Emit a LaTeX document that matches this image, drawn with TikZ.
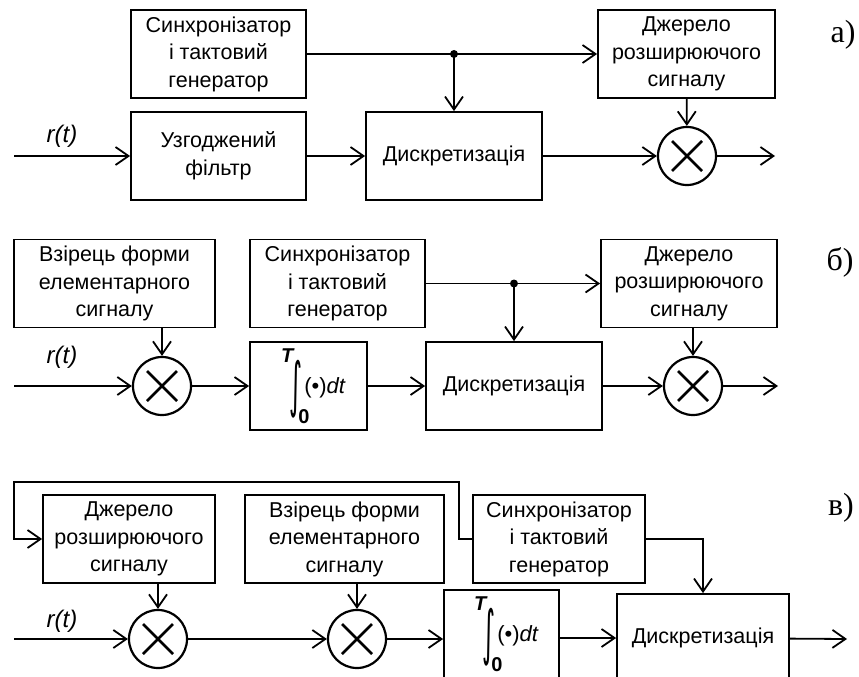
\documentclass[tikz,border=0pt]{standalone}
\usepackage{fontspec}
\usepackage{graphicx}
\setmainfont{Liberation Sans}
\newfontfamily\panelfont{Liberation Serif}
\newfontfamily\intfont{DejaVu Sans}
\usetikzlibrary{arrows.meta}

\tikzset{
	blk/.style={draw=black, shape=rectangle, line width=1.8pt, minimum height=88pt, inner sep=0pt, align=center, font=\fontsize{21.5}{27.5}\selectfont},
	mult/.style={draw=black, shape=circle, line width=2.2pt, minimum size=58pt, inner sep=0pt,
		path picture={\draw[line width=2.8pt] ([shift={(-15pt,-15pt)}]path picture bounding box.center) -- ([shift={(15pt,15pt)}]path picture bounding box.center);
			\draw[line width=2.8pt] ([shift={(-15pt,15pt)}]path picture bounding box.center) -- ([shift={(15pt,-15pt)}]path picture bounding box.center);}},
	jdot/.style={shape=circle, fill=black, minimum size=8pt, inner sep=0pt},
	sig/.style={font=\fontsize{24}{24}\selectfont\itshape},
	panel/.style={font=\fontsize{32}{32}\panelfont},
	wire/.style={line width=1.8pt, -{Straight Barb[length=13pt,width=18pt,line width=1.8pt]}}
}

\newcommand{\integr}{\hbox{\fontsize{20}{20}\selectfont\raisebox{31pt}{\bfseries\itshape T}\kern-4pt\raisebox{-25pt}{\resizebox*{13pt}{58pt}{\raisebox{\depth}{\intfont ∫}}}\kern-4pt\rlap{\raisebox{-30pt}{\bfseries 0}}\kern6pt{\fontsize{22}{22}\selectfont(\textbullet)\textit{dt}}\kern-10pt}}

\begin{document}
\begin{tikzpicture}[x=1pt, y=-1pt]
	\useasboundingbox (0,0) rectangle (859,677);
	\clip (0,0) rectangle (859,677);

	% a)
	\node[blk, minimum width=175pt] (synca) at (218.5, 54)  {Синхронізатор\\і тактовий\\генератор};
	\node[blk, minimum width=175pt] (filta) at (218.5, 156) {Узгоджений\\фільтр};
	\node[blk, minimum width=176pt] (disca) at (454, 156)   {Дискретизація};
	\node[blk, minimum width=177pt] (srca)  at (686.5, 54)  {Джерело\\розширюючого\\сигналу};
	\node[mult] (mula) at (687, 156) {};
	\node[jdot] (ja) at (454, 54) {};
	\coordinate (ina)  at (14, 156);
	\coordinate (outa) at (775, 156);
	\node[sig] (ra) at (62, 136) {r(t)};
	\node[panel] (la) at (843, 35) {а)};

	\draw[wire] (ina) -- (filta);
	\draw[wire] (filta) -- (disca);
	\draw[wire] (synca) -- (srca);
	\draw[wire] (ja.center) -- (disca.north);
	\draw[wire] (srca) -- (mula);
	\draw[wire] (disca) -- (mula);
	\draw[wire] (mula) -- (outa);

	% b)
	\node[blk, minimum width=201pt] (tmplb) at (114.5, 283.5) {Взірець форми\\елементарного\\сигналу};
	\node[blk, minimum width=175pt] (syncb) at (337.5, 283.5) {Синхронізатор\\і тактовий\\генератор};
	\node[blk, minimum width=176pt] (srcb)  at (689, 283.5)   {Джерело\\розширюючого\\сигналу};
	\node[mult] (mulb) at (162, 386) {};
	\node[blk, minimum width=117pt] (intb)  at (308.5, 386) {\integr};
	\node[blk, minimum width=176pt] (discb) at (514, 386)   {Дискретизація};
	\node[mult] (mulbb) at (693, 386) {};
	\node[jdot] (jb) at (514, 283.5) {};
	\coordinate (inb)  at (14, 386);
	\coordinate (outb) at (778, 386);
	\node[sig] (rb) at (62, 357) {r(t)};
	\node[panel] (lb) at (840, 262) {б)};

	\draw[wire] (inb) -- (mulb);
	\draw[wire] (mulb |- tmplb.south) -- (mulb);
	\draw[wire] (mulb) -- (intb);
	\draw[wire] (intb) -- (discb);
	\draw[wire] (syncb) -- (srcb);
	\draw[wire] (jb.center) -- (discb.north);
	\draw[wire] (mulbb |- srcb.south) -- (mulbb);
	\draw[wire] (discb) -- (mulbb);
	\draw[wire] (mulbb) -- (outb);

	% в)
	\node[blk, minimum width=172pt] (srcc)  at (129, 539)   {Джерело\\розширюючого\\сигналу};
	\node[blk, minimum width=199pt] (tmplc) at (344.5, 539) {Взірець форми\\елементарного\\сигналу};
	\node[blk, minimum width=172pt] (syncc) at (559, 539)   {Синхронізатор\\і тактовий\\генератор};
	\node[mult] (mulc) at (158, 639) {};
	\node[mult] (mulcc) at (357, 639) {};
	\node[blk, minimum width=115pt] (intc)  at (501.5, 634) {\integr};
	\node[blk, minimum width=172pt] (discc) at (703, 638)   {Дискретизація};
	\coordinate (inc)  at (14, 639);
	\coordinate (outc) at (847, 639);
	\coordinate (fbr) at (459, 482);
	\coordinate (fbl) at (14, 482);
	\node[sig] (rc) at (62, 621) {r(t)};
	\node[panel] (lc) at (841, 508) {в)};

	\draw[wire] (inc) -- (mulc);
	\draw[wire] (mulc |- srcc.south) -- (mulc);
	\draw[wire] (mulc) -- (mulcc);
	\draw[wire] (mulcc |- tmplc.south) -- (mulcc);
	\draw[wire] (mulcc) -- (intc.west |- mulcc);
	\draw[wire] (intc.east |- discc) -- (discc);
	\draw[wire] (discc) -- (outc);
	\draw[wire] (syncc.east) -| (discc.north);
	\draw[wire] (syncc.west) -| (fbr) -- (fbl) |- (srcc.west);

\end{tikzpicture}
\end{document}
